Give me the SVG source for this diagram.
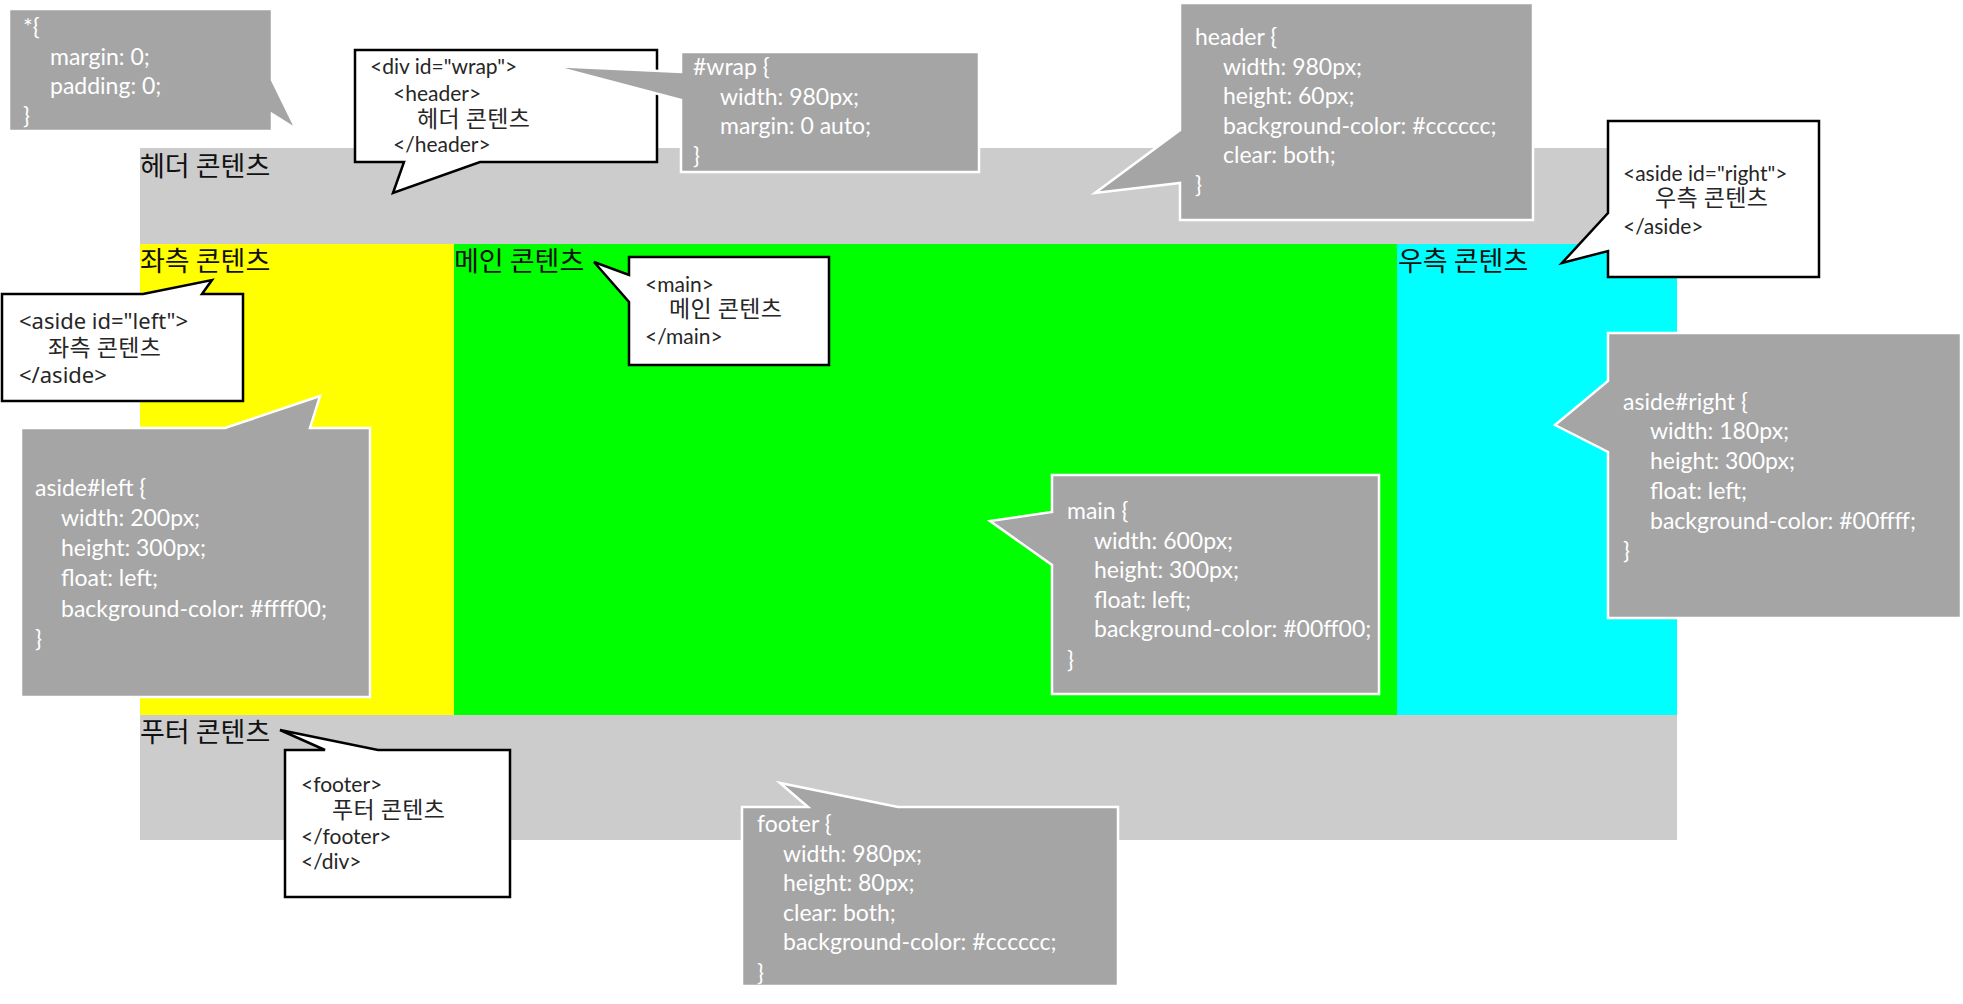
<svg xmlns="http://www.w3.org/2000/svg" width="1963" height="1004" viewBox="0 0 1963 1004">
<style>
.lbl{font-family:"Noto Sans CJK KR","Noto Sans",sans-serif;font-size:27px;fill:#111}
.gray{fill:#a5a5a5;stroke:#fff;stroke-width:2.5}
.white{fill:#fff;stroke:#000;stroke-width:2.5}
.gt{font-family:Lato,"Noto Sans CJK KR",sans-serif;font-size:23px;fill:#fff}
.wt{font-family:Lato,"Noto Sans CJK KR",sans-serif;font-size:21px;fill:#262626}
.wn{font-family:"Noto Sans","Noto Sans CJK KR",sans-serif;font-size:22px;fill:#262626}
.kt{font-family:"Noto Sans CJK KR",sans-serif;font-size:23px;letter-spacing:0.4px;fill:#262626}
</style>
<rect width="1963" height="1004" fill="#fff"/>
<g id="layout">
  <rect id="header-band" x="140" y="148" width="1537" height="96" fill="#cccccc"/>
  <rect id="left-band" x="140" y="244" width="314" height="471" fill="#ffff00"/>
  <rect id="main-band" x="454" y="244" width="943" height="471" fill="#00ff00"/>
  <rect id="right-band" x="1397" y="244" width="280" height="471" fill="#00ffff"/>
  <rect id="footer-band" x="140" y="715" width="1537" height="125" fill="#cccccc"/>
  <text class="lbl" x="140" y="176">헤더 콘텐츠</text>
  <text class="lbl" x="140" y="271">좌측 콘텐츠</text>
  <text class="lbl" x="454" y="271">메인 콘텐츠</text>
  <text class="lbl" x="1398" y="271">우측 콘텐츠</text>
  <text class="lbl" x="140" y="742">푸터 콘텐츠</text>
</g>
<g id="connectors"></g>
<g id="css-universal">
  <path class="gray" stroke="none" d="M9,9 H272 V80 L296,129 L272,114 V131 H9 Z"/>
  <text class="gt" x="23" y="35">*{</text>
  <text class="gt" x="50" y="65">margin: 0;</text>
  <text class="gt" x="50" y="94">padding: 0;</text>
  <text class="gt" x="23" y="124">}</text>
</g>
<g id="html-wrap">
  <path class="white" d="M355,50 H657 V162 H480 L393,193 L404,162 H355 Z"/>
  <text class="wt" x="370" y="74">&lt;div id="wrap"&gt;</text>
  <text class="wt" x="393" y="101">&lt;header&gt;</text>
  <text class="kt" x="417" y="127">헤더 콘텐츠</text>
  <text class="wt" x="393" y="152">&lt;/header&gt;</text>
</g>
<g id="css-wrap">
  <path class="gray" d="M681,52 H979 V172 H681 V100 L552,66 L681,72 Z"/>
  <text class="gt" x="693" y="75">#wrap {</text>
  <text class="gt" x="720" y="105">width: 980px;</text>
  <text class="gt" x="720" y="134">margin: 0 auto;</text>
  <text class="gt" x="693" y="164">}</text>
</g>
<g id="css-header">
  <path class="gray" d="M1180,3 H1533 V220 H1180 V183 L1095,193 L1180,130 Z"/>
  <text class="gt" x="1195" y="45">header {</text>
  <text class="gt" x="1223" y="74.6">width: 980px;</text>
  <text class="gt" x="1223" y="104.2">height: 60px;</text>
  <text class="gt" x="1223" y="133.8">background-color: #cccccc;</text>
  <text class="gt" x="1223" y="163.4">clear: both;</text>
  <text class="gt" x="1195" y="193">}</text>
</g>
<g id="html-right">
  <path class="white" d="M1608,121 H1819 V277 H1608 V251 L1562,263 L1608,213 Z"/>
  <text class="wt" x="1623" y="181">&lt;aside id="right"&gt;</text>
  <text class="kt" x="1655" y="206">우측 콘텐츠</text>
  <text class="wt" x="1623" y="234">&lt;/aside&gt;</text>
</g>
<g id="html-left">
  <path class="white" d="M2,294 H143 L212,280 L202,294 H243 V401 H2 Z"/>
  <text class="wn" x="19" y="329">&lt;aside id="left"&gt;</text>
  <text class="kt" x="48" y="356">좌측 콘텐츠</text>
  <text class="wn" x="19" y="383">&lt;/aside&gt;</text>
</g>
<g id="css-left">
  <path class="gray" d="M21,428 H225 L320,396 L310,428 H370 V697 H21 Z"/>
  <text class="gt" x="35" y="496">aside#left {</text>
  <text class="gt" x="61" y="526">width: 200px;</text>
  <text class="gt" x="61" y="556">height: 300px;</text>
  <text class="gt" x="61" y="586">float: left;</text>
  <text class="gt" x="61" y="617">background-color: #ffff00;</text>
  <text class="gt" x="35" y="647">}</text>
</g>
<g id="html-main">
  <path class="white" d="M629,257 H829 V365 H629 V302 L594,262 L629,275 Z"/>
  <text class="wt" x="645" y="292">&lt;main&gt;</text>
  <text class="kt" x="669" y="317">메인 콘텐츠</text>
  <text class="wt" x="645" y="344">&lt;/main&gt;</text>
</g>
<g id="css-main">
  <path class="gray" d="M1052,475 H1379 V694 H1052 V565 L990,521 L1052,512 Z"/>
  <text class="gt" x="1067" y="519">main {</text>
  <text class="gt" x="1094" y="548.6">width: 600px;</text>
  <text class="gt" x="1094" y="578.2">height: 300px;</text>
  <text class="gt" x="1094" y="607.8">float: left;</text>
  <text class="gt" x="1094" y="637.4">background-color: #00ff00;</text>
  <text class="gt" x="1067" y="668">}</text>
</g>
<g id="css-right">
  <path class="gray" d="M1608,333 H1961 V618 H1608 V452 L1555,425 L1608,381 Z"/>
  <text class="gt" x="1623" y="409.5">aside#right {</text>
  <text class="gt" x="1650" y="439.3">width: 180px;</text>
  <text class="gt" x="1650" y="469.1">height: 300px;</text>
  <text class="gt" x="1650" y="498.9">float: left;</text>
  <text class="gt" x="1650" y="528.7">background-color: #00ffff;</text>
  <text class="gt" x="1623" y="558.5">}</text>
</g>
<g id="html-footer">
  <path class="white" d="M285,750 H325 L280,730 L378,750 H510 V897 H285 Z"/>
  <text class="wt" x="301" y="792">&lt;footer&gt;</text>
  <text class="kt" x="332" y="818">푸터 콘텐츠</text>
  <text class="wt" x="301" y="844">&lt;/footer&gt;</text>
  <text class="wt" x="301" y="869">&lt;/div&gt;</text>
</g>
<g id="css-footer">
  <path class="gray" d="M742,807 H808 L780,783 L898,807 H1118 V986 H742 Z"/>
  <text class="gt" x="757" y="832">footer {</text>
  <text class="gt" x="783" y="861.6">width: 980px;</text>
  <text class="gt" x="783" y="891.2">height: 80px;</text>
  <text class="gt" x="783" y="920.8">clear: both;</text>
  <text class="gt" x="783" y="950.4">background-color: #cccccc;</text>
  <text class="gt" x="757" y="981">}</text>
</g>
</svg>
